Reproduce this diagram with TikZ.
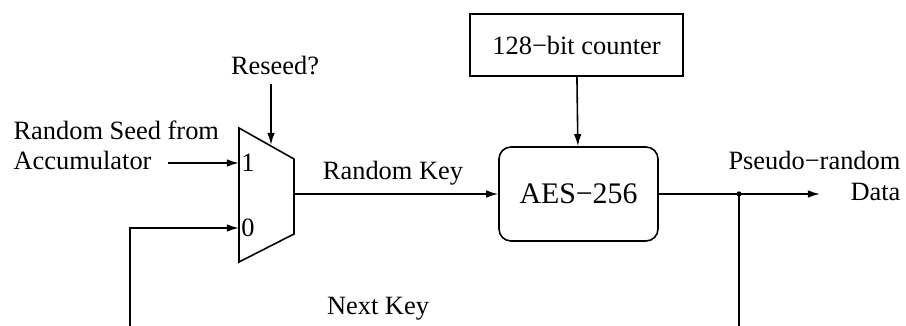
\documentclass[tikz,border=0pt]{standalone}
\usepackage{fontspec}
\setmainfont{Liberation Serif}
\usetikzlibrary{arrows.meta}

\tikzset{
    blk/.style={draw,minimum width=2.835cm,minimum height=0.825cm},
    aesblk/.style={draw,rounded corners=0.16cm,minimum width=2.116cm,minimum height=1.251cm,
        font=\fontsize{11.3}{13}\selectfont},
}

\begin{document}
\begin{tikzpicture}[x=0.01331cm,y=-0.01331cm,line width=0.6pt,
    >={Latex[length=1.6mm,width=1mm]}]
    \useasboundingbox (0,0) rectangle (906,326);
    \clip (0,0) rectangle (906,326);
    % multiplexer
    \coordinate (mtl) at (239,128);
    \coordinate (mtr) at (294,159);
    \coordinate (mbr) at (294,234);
    \coordinate (mbl) at (239,262);
    \draw (mtl)--(mtr)--(mbr)--(mbl)--cycle;
    \coordinate (in1) at (239,163);
    \coordinate (in0) at (239,228);
    \coordinate (sel) at (271,145);
    \coordinate (mout) at (294,194);
    \node (one) at (248,163) {1};
    \node (zero) at (248,228) {0};
    % blocks
    \node[blk] (counter) at (576.5,45) {128−bit counter};
    \node[aesblk] (aes) at (578.5,194) {AES−256};
    % labels
    \node (reseed) [anchor=south] at (275,84) {Reseed?};
    \node (seed) [anchor=west,align=left,font=\fontsize{10}{11.3}\selectfont] at (4,145)
    {Random Seed from\\Accumulator};
    \coordinate (s1) at (168,163);
    \node (keylbl) at (393,173) {Random Key};
    \node (nextlbl) at (378,309) {Next Key};
    \node (outlbl) [anchor=east,align=right,font=\fontsize{10}{11.7}\selectfont] at (910,176)
    {Pseudo−random\\Data};
    % connectors
    \draw[->] (reseed.south -| sel) -- (sel);
    \draw[->] (s1) -- (in1);
    \draw[->] (mout) -- (aes.west);
    \draw[->] (counter) -- (aes);
    \coordinate (tap) at (739,194);
    \coordinate (out) at (820,194);
    \coordinate (low) at (130,345);
    \draw[->] (aes.east) -- (out);
    \fill (tap) circle (1pt);
    \draw[->] (tap) |- (low) |- (in0);
\end{tikzpicture}
\end{document}
